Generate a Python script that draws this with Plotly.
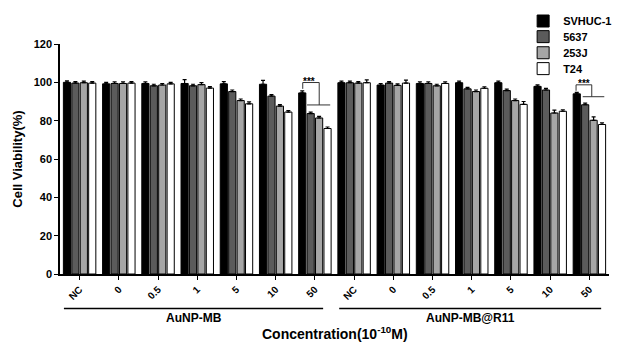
import plotly.graph_objects as go

concentrations = ["NC", "0", "0.5", "1", "5", "10", "50"]
groups = ["AuNP-MB", "AuNP-MB@R11"]
series_names = ["SVHUC-1", "5637", "253J", "T24"]

svhuc = [100.0, 99.2, 99.4, 99.4, 99.2, 99.0, 94.5,
         99.8, 98.6, 99.4, 99.8, 99.8, 97.9, 94.0]
c5637 = [99.6, 99.4, 98.2, 98.2, 95.2, 92.8, 83.7,
         99.8, 99.6, 99.4, 96.6, 95.7, 96.0, 88.3]
c253j = [99.8, 99.4, 98.6, 98.8, 90.5, 87.6, 81.4,
         99.6, 98.4, 98.2, 95.2, 90.5, 84.0, 80.2]
t24 = [99.6, 99.6, 99.2, 97.0, 88.8, 84.5, 75.9,
       99.8, 99.6, 99.4, 96.9, 88.5, 84.9, 78.0]

err_svhuc = [0.8, 0.8, 0.8, 2.0, 1.2, 2.0, 1.0, 0.8, 0.8, 0.8, 0.8, 0.8, 0.8, 0.8]
err_5637 = [0.8, 0.8, 0.8, 0.8, 0.8, 0.8, 0.8, 0.8, 0.8, 0.8, 0.8, 0.8, 0.8, 0.8]
err_253j = [0.8, 0.8, 0.8, 1.0, 0.8, 0.8, 0.8, 0.8, 0.8, 0.8, 0.8, 0.8, 1.5, 1.8]
err_t24 = [0.8, 0.8, 0.8, 0.8, 1.0, 0.8, 0.8, 1.5, 1.5, 0.8, 0.8, 1.5, 0.8, 0.8]

colors = ["#000000", "#5b5b5b", "#a6a6a6", "#ffffff"]

labels = concentrations * len(groups)
xpos = list(range(len(labels)))

FONT = "Arial, Liberation Sans, sans-serif"

# legend row centres (paper y), one legend per series for tight spacing
legend_rows = [1.100, 1.032, 0.962, 0.893]
legend_ids = ["legend", "legend2", "legend3", "legend4"]

fig = go.Figure()
for name, vals, errs, col, lid in zip(series_names, [svhuc, c5637, c253j, t24],
                                      [err_svhuc, err_5637, err_253j, err_t24], colors,
                                      legend_ids):
    fig.add_trace(go.Bar(
        x=xpos, y=vals, name=name, legend=lid, showlegend=True,
        marker=dict(color=col, line=dict(color="#000000", width=1)),
        error_y=dict(type="data", array=errs, arrayminus=[0] * len(errs),
                     symmetric=False, color="#000000", thickness=1.2, width=2),
    ))

shapes = []
annotations = []
# significance brackets (category index, y-values)
sig = [
    dict(k=6, x0=-0.31, top=99.9, start=96.6, xr=0.11, low=88.2, h0=-0.2, h1=0.39, tx=-0.14, ty=100.6),
    dict(k=13, x0=-0.34, top=98.7, start=95.6, xr=0.06, low=92.5, h0=-0.17, h1=0.38, tx=-0.15, ty=99.4),
]
for s in sig:
    k = s["k"]
    pts = [(k + s["x0"], s["start"]), (k + s["x0"], s["top"]), (k + s["xr"], s["top"]), (k + s["xr"], s["low"])]
    path = "M " + " L ".join(f"{a},{b}" for a, b in pts)
    shapes.append(dict(type="path", path=path, xref="x", yref="y",
                       line=dict(color="#333333", width=1)))
    shapes.append(dict(type="line", xref="x", yref="y", x0=k + s["h0"], x1=k + s["h1"],
                       y0=s["low"], y1=s["low"], line=dict(color="#333333", width=1)))
    annotations.append(dict(x=k + s["tx"], y=s["ty"], xref="x", yref="y", text="***",
                            showarrow=False,
                            font=dict(family=FONT, size=10, color="black", weight="bold"),
                            yanchor="middle"))

# group underlines and labels
group_spans = [(-0.4, 6.21), (6.62, 13.3)]
for g, (a, b) in zip(groups, group_spans):
    shapes.append(dict(type="line", xref="x", yref="paper", x0=a, x1=b, y0=-0.150, y1=-0.150,
                       line=dict(color="#000000", width=1.5)))
    annotations.append(dict(x=(a + b) / 2, y=-0.190, xref="x", yref="paper", text=g,
                            showarrow=False,
                            font=dict(family=FONT, size=12, color="#000", weight="bold"),
                            yanchor="middle"))
annotations.append(dict(x=0.5, y=-0.258, xref="paper", yref="paper",
                        text="Concentration(10<sup>-10</sup>M)", showarrow=False,
                        font=dict(family=FONT, size=14, color="#000", weight="bold"),
                        yanchor="middle"))

legend_style = dict(xanchor="left", yanchor="middle", x=0.8436, visible=True,
                    font=dict(family=FONT, size=11, color="#000", weight="bold"),
                    bgcolor="rgba(0,0,0,0)")
layout_legends = {}
for lid, yy in zip(legend_ids, legend_rows):
    layout_legends[lid] = dict(legend_style, y=yy)

fig.update_layout(
    width=623, height=343,
    margin=dict(l=60, r=6, t=43, b=69),
    paper_bgcolor="white", plot_bgcolor="white",
    showlegend=True,
    barmode="group", bargap=0.14, bargroupgap=0.15,
    font=dict(family=FONT, color="#000"),
    shapes=shapes, annotations=annotations,
    xaxis=dict(range=[-0.5, 13.5], tickmode="array", tickvals=xpos,
               ticktext=labels, tickangle=-45,
               ticks="outside", ticklen=4, tickcolor="#000", showline=True,
               linecolor="#000", linewidth=1.5, showgrid=False, zeroline=False,
               tickfont=dict(family=FONT, size=10, weight="bold")),
    yaxis=dict(range=[0, 120], dtick=20, ticks="outside", ticklen=4, tickcolor="#000",
               showline=True, linecolor="#000", linewidth=1.5, showgrid=False,
               zeroline=False, tickfont=dict(family=FONT, size=11, weight="bold"),
               title=dict(text="Cell Viability(%)",
                          font=dict(family=FONT, size=13, weight="bold"),
                          standoff=8)),
    **layout_legends,
)

fig.write_html("out.html", config={"displayModeBar": False},
               post_script="document.body.style.margin='0';")
